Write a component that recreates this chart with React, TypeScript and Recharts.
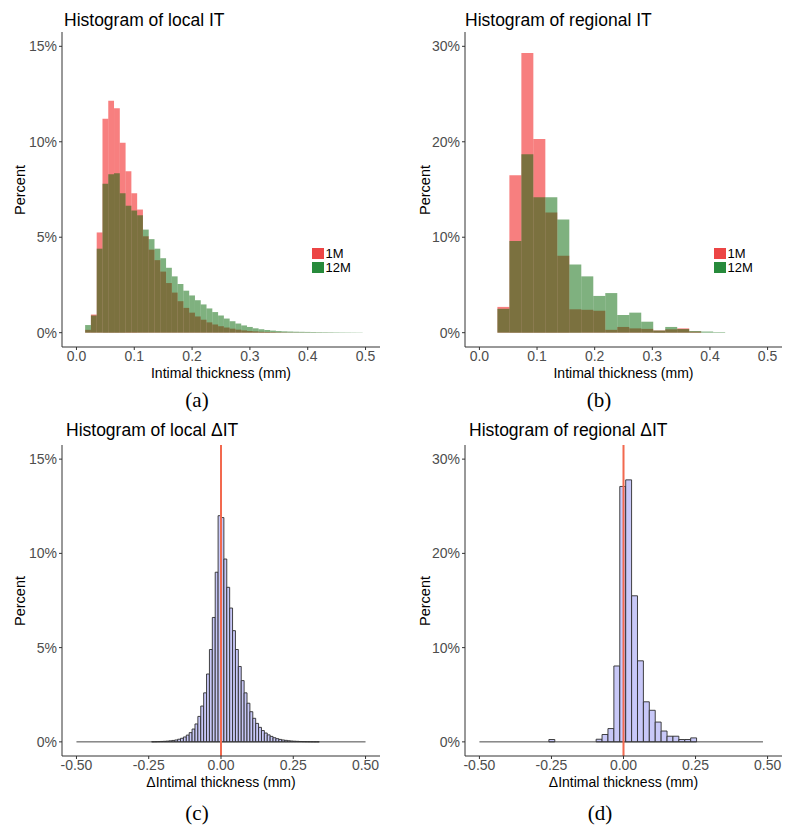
import { Bar, BarChart, Legend, ReferenceLine, XAxis, YAxis } from "recharts"

// (a) local IT, bins of 0.01 mm (bin centres)
const localBins = [0.02, 0.03, 0.04, 0.05, 0.06, 0.07, 0.08, 0.09, 0.1, 0.11, 0.12, 0.13, 0.14, 0.15, 0.16, 0.17, 0.18, 0.19, 0.2, 0.21, 0.22, 0.23, 0.24, 0.25, 0.26, 0.27, 0.28, 0.29, 0.3, 0.31, 0.32, 0.33, 0.34, 0.35, 0.36, 0.37, 0.38, 0.39, 0.4, 0.41, 0.42, 0.43, 0.44, 0.45, 0.46, 0.47, 0.48, 0.49]
const local1M = [0.15, 0.95, 5.25, 11.2, 12.15, 11.75, 9.95, 8.45, 7.3, 6.45, 5.05, 4.35, 3.8, 3.2, 2.6, 2.1, 1.65, 1.3, 1.05, 0.85, 0.68, 0.54, 0.43, 0.34, 0.27, 0.21, 0.16, 0.12, 0.09, 0.07, 0.05, 0.04, 0.03, 0.02, 0.015, 0.01, 0.008, 0.006, 0.005, 0.004, 0.003, 0.002, 0.002, 0.001, 0.001, 0.001, 0, 0]
const local12M = [0.4, 0.9, 4.4, 7.8, 8.3, 8.35, 7.3, 6.65, 6.4, 6.15, 5.4, 4.9, 4.4, 3.9, 3.4, 2.95, 2.55, 2.2, 1.95, 1.7, 1.48, 1.27, 1.08, 0.9, 0.74, 0.6, 0.48, 0.38, 0.3, 0.23, 0.18, 0.14, 0.11, 0.085, 0.07, 0.06, 0.05, 0.045, 0.04, 0.035, 0.03, 0.027, 0.024, 0.021, 0.018, 0.016, 0.014, 0.012]

// (b) regional IT, bins of 0.0208 mm
const regionalBins = [0.0416, 0.0624, 0.0832, 0.104, 0.1248, 0.1456, 0.1664, 0.1872, 0.208, 0.2288, 0.2496, 0.2704, 0.2912, 0.312, 0.3328, 0.3536, 0.3744, 0.3952, 0.416]
const regional1M = [2.7, 16.5, 29.3, 20.3, 12.6, 8.05, 2.45, 2.4, 2.3, 0.3, 0.6, 0.45, 0.4, 0.22, 0.35, 0.45, 0.12, 0, 0]
const regional12M = [2.5, 9.6, 18.7, 14.2, 14.2, 11.85, 7.15, 5.9, 3.85, 4.15, 1.85, 2.1, 1.15, 0.24, 0.6, 0.38, 0.17, 0.12, 0.06]

// (c) local delta IT, bins of 0.01 mm (everything outside is 0)
const localDeltaBins = [-0.235, -0.225, -0.215, -0.205, -0.195, -0.185, -0.175, -0.165, -0.155, -0.145, -0.135, -0.125, -0.115, -0.105, -0.095, -0.085, -0.075, -0.065, -0.055, -0.045, -0.035, -0.025, -0.015, -0.005, 0.005, 0.015, 0.025, 0.035, 0.045, 0.055, 0.065, 0.075, 0.085, 0.095, 0.105, 0.115, 0.125, 0.135, 0.145, 0.155, 0.165, 0.175, 0.185, 0.195, 0.205, 0.215, 0.225, 0.235, 0.245, 0.255, 0.265, 0.275, 0.285, 0.295, 0.305, 0.315, 0.325, 0.335]
const localDelta = [0.007, 0.011, 0.016, 0.022, 0.03, 0.04, 0.055, 0.075, 0.1, 0.14, 0.19, 0.26, 0.36, 0.49, 0.68, 0.95, 1.35, 1.9, 2.6, 3.6, 4.9, 6.6, 9.0, 12.0, 11.9, 9.7, 8.2, 7.1, 5.9, 4.9, 4.0, 3.25, 2.6, 2.05, 1.6, 1.25, 0.98, 0.77, 0.6, 0.47, 0.37, 0.29, 0.22, 0.17, 0.13, 0.1, 0.08, 0.06, 0.045, 0.035, 0.027, 0.02, 0.015, 0.011, 0.008, 0.006, 0.004, 0.003]

// (d) regional delta IT, bins of 0.0205 mm
const regionalDeltaBins = [-0.24865, -0.22815, -0.20765, -0.18715, -0.16665, -0.14615, -0.12565, -0.10515, -0.08465, -0.06415, -0.04365, -0.02315, -0.00265, 0.01785, 0.03835, 0.05885, 0.07935, 0.09985, 0.12035, 0.14085, 0.16135, 0.18185, 0.20235, 0.22285, 0.24335]
const regionalDelta = [0.25, 0, 0, 0, 0, 0, 0, 0, 0.28, 0.78, 1.41, 8.05, 27.1, 27.8, 15.5, 8.6, 4.25, 3.35, 2.1, 1.15, 0.6, 0.6, 0.25, 0.25, 0.42]

const itTicks = [0, 0.1, 0.2, 0.3, 0.4, 0.5]
const deltaTicks = [-0.5, -0.25, 0, 0.25, 0.5]
const localPctTicks = [0, 5, 10, 15]
const regionalPctTicks = [0, 10, 20, 30]

const FONT = '"Liberation Sans", Arial, Helvetica, sans-serif'
const SERIF = '"Liberation Serif", "Times New Roman", serif'
const AXIS = "#333333"
const TICK_TEXT = "#4d4d4d"
const legendOrder = ["m1", "m12"]
const legendColors: Record<string, string> = { m1: "#ec4545", m12: "#278a3b" }

function GroupLegend(props: any) {
  const items = [...(props.payload || [])].sort(
    (a: any, b: any) => legendOrder.indexOf(a.dataKey) - legendOrder.indexOf(b.dataKey)
  )
  return (
    <div style={{ fontSize: 13, lineHeight: "13px", color: "#000", fontFamily: FONT }}>
      {items.map((p: any) => (
        <div key={p.value} style={{ display: "flex", alignItems: "center", height: 13.4 }}>
          <span style={{ width: 11.5, height: 11, background: legendColors[p.dataKey], marginRight: 2 }} />
          <span>{p.value}</span>
        </div>
      ))}
    </div>
  )
}

type ITProps = {
  rows: { bin: number; m1: number; m12: number }[]
  binWidth: number
  yDomain: [number, number]
  yTicks: number[]
  plotLeft: number
  plotRight: number
  legendLeft: number
}

function ITHistogram({ rows, binWidth, yDomain, yTicks, plotLeft, plotRight, legendLeft }: ITProps) {
  const W = 400
  const H = 400
  const xDomain: [number, number] = [-0.025, 0.525]
  const barPx = (binWidth * (plotRight - plotLeft)) / (xDomain[1] - xDomain[0]) - 0.01
  return (
    <BarChart width={W} height={H} data={rows} margin={{ top: 32, right: W - plotRight, left: 0, bottom: 0 }}>
      <XAxis
        xAxisId="m1"
        type="number"
        dataKey="bin"
        domain={xDomain}
        allowDataOverflow
        ticks={itTicks}
        tickFormatter={(v) => v.toFixed(1)}
        height={53}
        stroke={AXIS}
        tickSize={3}
        tickMargin={1}
        tick={{ fill: TICK_TEXT, fontSize: 14 }}
        label={{ value: "Intimal thickness (mm)", position: "insideBottom", offset: 22, fill: "#000", fontSize: 14 }}
      />
      <XAxis xAxisId="m12" type="number" dataKey="bin" domain={xDomain} allowDataOverflow hide />
      <YAxis
        type="number"
        domain={yDomain}
        allowDataOverflow
        ticks={yTicks}
        tickFormatter={(v) => `${v}%`}
        width={plotLeft}
        stroke={AXIS}
        tickSize={3}
        tickMargin={2}
        tick={{ fill: TICK_TEXT, fontSize: 14 }}
      />
      <Bar xAxisId="m1" dataKey="m1" name="1M" fill="#f00000" fillOpacity={0.5} barSize={barPx} isAnimationActive={false} />
      <Bar xAxisId="m12" dataKey="m12" name="12M" fill="#006400" fillOpacity={0.5} barSize={barPx} isAnimationActive={false} />
      <Legend
        layout="vertical"
        align="center"
        verticalAlign="middle"
        wrapperStyle={{ left: legendLeft, top: 247, width: "auto" }}
        content={GroupLegend}
      />
    </BarChart>
  )
}

type DeltaProps = {
  rows: { bin: number; pct: number }[]
  binWidth: number
  yDomain: [number, number]
  yTicks: number[]
  plotLeft: number
  plotRight: number
  zeroSpan: [number, number]
}

function DeltaHistogram({ rows, binWidth, yDomain, yTicks, plotLeft, plotRight, zeroSpan }: DeltaProps) {
  const W = 400
  const H = 390
  const xDomain: [number, number] = [-0.55, 0.55]
  const barPx = (binWidth * (plotRight - plotLeft)) / (xDomain[1] - xDomain[0]) - 0.01
  return (
    <BarChart width={W} height={H} data={rows} margin={{ top: 35, right: W - plotRight, left: 0, bottom: 0 }}>
      <XAxis
        type="number"
        dataKey="bin"
        domain={xDomain}
        allowDataOverflow
        ticks={deltaTicks}
        tickFormatter={(v) => v.toFixed(2)}
        height={44}
        stroke={AXIS}
        tickSize={3}
        tickMargin={1}
        tick={{ fill: TICK_TEXT, fontSize: 14 }}
        label={{ value: "\u0394Intimal thickness (mm)", position: "insideBottom", offset: 13, fill: "#000", fontSize: 14 }}
      />
      <YAxis
        type="number"
        domain={yDomain}
        allowDataOverflow
        ticks={yTicks}
        tickFormatter={(v) => `${v}%`}
        width={plotLeft}
        stroke={AXIS}
        tickSize={3}
        tickMargin={2}
        tick={{ fill: TICK_TEXT, fontSize: 14 }}
      />
      <ReferenceLine
        segment={[{ x: zeroSpan[0], y: 0 }, { x: zeroSpan[1], y: 0 }]}
        stroke="#333"
        strokeWidth={0.9}
      />
      <Bar dataKey="pct" fill="#c8c8f8" stroke="#2e2e2e" strokeWidth={0.9} barSize={barPx} isAnimationActive={false} />
      <ReferenceLine x={0} stroke="#f2694f" strokeWidth={2} />
    </BarChart>
  )
}

export default function App() {
  const localRows = localBins.map((bin, i) => ({ bin, m1: local1M[i], m12: local12M[i] }))
  const regionalRows = regionalBins.map((bin, i) => ({ bin, m1: regional1M[i], m12: regional12M[i] }))
  const localDeltaRows = localDeltaBins.map((bin, i) => ({ bin, pct: localDelta[i] }))
  const regionalDeltaRows = regionalDeltaBins.map((bin, i) => ({ bin, pct: regionalDelta[i] }))

  return (
    <div style={{ position: "absolute", left: 0, top: 0, width: 800, height: 838, background: "#fff", fontFamily: FONT }}>
      <div style={{ position: "absolute", left: 0, top: 0 }}>
        <ITHistogram rows={localRows} binWidth={0.01} yDomain={[-0.75, 15.75]} yTicks={localPctTicks} plotLeft={62} plotRight={380} legendLeft={312} />
      </div>
      <div style={{ position: "absolute", left: 400, top: 0 }}>
        <ITHistogram rows={regionalRows} binWidth={0.0208} yDomain={[-1.5, 31.5]} yTicks={regionalPctTicks} plotLeft={65} plotRight={382} legendLeft={314} />
      </div>
      <div style={{ position: "absolute", left: 0, top: 410 }}>
        <DeltaHistogram rows={localDeltaRows} binWidth={0.01} yDomain={[-0.75, 15.75]} yTicks={localPctTicks} plotLeft={62} plotRight={380} zeroSpan={[-0.5, 0.5]} />
      </div>
      <div style={{ position: "absolute", left: 400, top: 410 }}>
        <DeltaHistogram rows={regionalDeltaRows} binWidth={0.0205} yDomain={[-1.5, 31.5]} yTicks={regionalPctTicks} plotLeft={65} plotRight={382} zeroSpan={[-0.5, 0.484]} />
      </div>

      <svg width={800} height={838} style={{ position: "absolute", left: 0, top: 0, pointerEvents: "none" }}>
        <g fontFamily={FONT} fill="#000">
          <text x={64} y={25.5} fontSize={17.5}>Histogram of local IT</text>
          <text x={465} y={25.5} fontSize={17.5}>Histogram of regional IT</text>
          <text x={66} y={436} fontSize={17.5}>Histogram of local {"\u0394"}IT</text>
          <text x={469} y={436} fontSize={17.5}>Histogram of regional {"\u0394"}IT</text>
          <text transform="translate(25,190) rotate(-90)" textAnchor="middle" fontSize={14.5}>Percent</text>
          <text transform="translate(430,190) rotate(-90)" textAnchor="middle" fontSize={14.5}>Percent</text>
          <text transform="translate(25,601) rotate(-90)" textAnchor="middle" fontSize={14.5}>Percent</text>
          <text transform="translate(430,601) rotate(-90)" textAnchor="middle" fontSize={14.5}>Percent</text>
        </g>
        <g fontFamily={SERIF} fill="#000" fontSize={21} textAnchor="middle">
          <text x={197} y={407}>(a)</text>
          <text x={599} y={407}>(b)</text>
          <text x={197} y={820}>(c)</text>
          <text x={600} y={820}>(d)</text>
        </g>
      </svg>
    </div>
  )
}
